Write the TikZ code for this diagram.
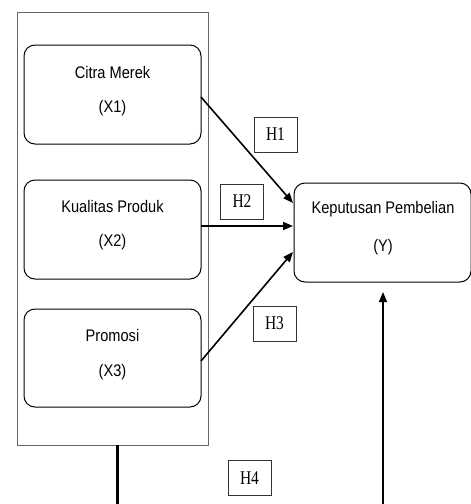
\documentclass[tikz,border=0pt]{standalone}
\usepackage{fontspec}
\setmainfont{Liberation Serif}
\setsansfont{Liberation Sans}
\usetikzlibrary{arrows.meta,calc}
\begin{document}
\begin{tikzpicture}[x=1pt,y=-1pt,
  varbox/.style={draw=black,line width=1pt,rounded corners=11pt,minimum width=177pt,inner sep=0pt,outer sep=0pt},
  vtext/.style={font=\sffamily\fontsize{14.6}{16}\selectfont,yscale=1.15,inner sep=0pt},
  hbox/.style={draw=black!80,line width=0.8pt,font=\fontsize{15.5}{17}\selectfont,yscale=1.25,inner sep=0pt,minimum width=43pt,minimum height=28pt},
  arr/.style={line width=1.6pt,-{Triangle[length=10pt,width=8pt]}}]
\useasboundingbox (0,0) rectangle (471,504);
\node[draw=black!60,line width=0.8pt,minimum width=191pt,minimum height=433pt,inner sep=0pt,outer sep=0pt] (outer) at (112.5,228.5) {};
\node[varbox,minimum height=99pt] (x1) at (112.5,94.5) {};
\node[varbox,minimum height=99pt] (x2) at (112.5,229.5) {};
\node[varbox,minimum height=98pt] (x3) at (112.5,358) {};
\node[varbox,minimum height=99pt] (y) at (382.5,232.5) {};
\node[vtext] (t1a) at (112.5,72) {Citra Merek};
\node[vtext] (t1b) at (112.5,108) {(X1)};
\node[vtext] (t2a) at (112.5,206) {Kualitas Produk};
\node[vtext] (t2b) at (112.5,242) {(X2)};
\node[vtext] (t3a) at (112.5,335) {Promosi};
\node[vtext] (t3b) at (112.5,372) {(X3)};
\node[vtext] (tya) at (383,209) {Keputusan Pembelian};
\node[vtext] (tyb) at (383,247) {(Y)};
\node[hbox] (h1) at (275.5,134.5) {H1};
\node[hbox] (h2) at (242,201.5) {H2};
\node[hbox] (h3) at (274.5,323.5) {H3};
\node[hbox] (h4) at (249.5,478) {H4};
\coordinate (b1) at (117.5,504);
\coordinate (b2) at (383,504);
\draw[arr] ($(x1.east)+(0,2.5)$) -- ($(y.west)+(-1,-29.5)$);
\draw[arr] ($(x2.east)+(0,-3.5)$) -- ($(y.west)+(-1,-6.5)$);
\draw[arr] ($(x3.east)+(0,3)$) -- ($(y.west)+(-1,19.5)$);
\draw[line width=2.8pt] ($(outer.south)+(5,0)$) -- (b1);
\draw[arr] (b2) -- ($(y.south)+(0.5,10)$);
\end{tikzpicture}
\end{document}
